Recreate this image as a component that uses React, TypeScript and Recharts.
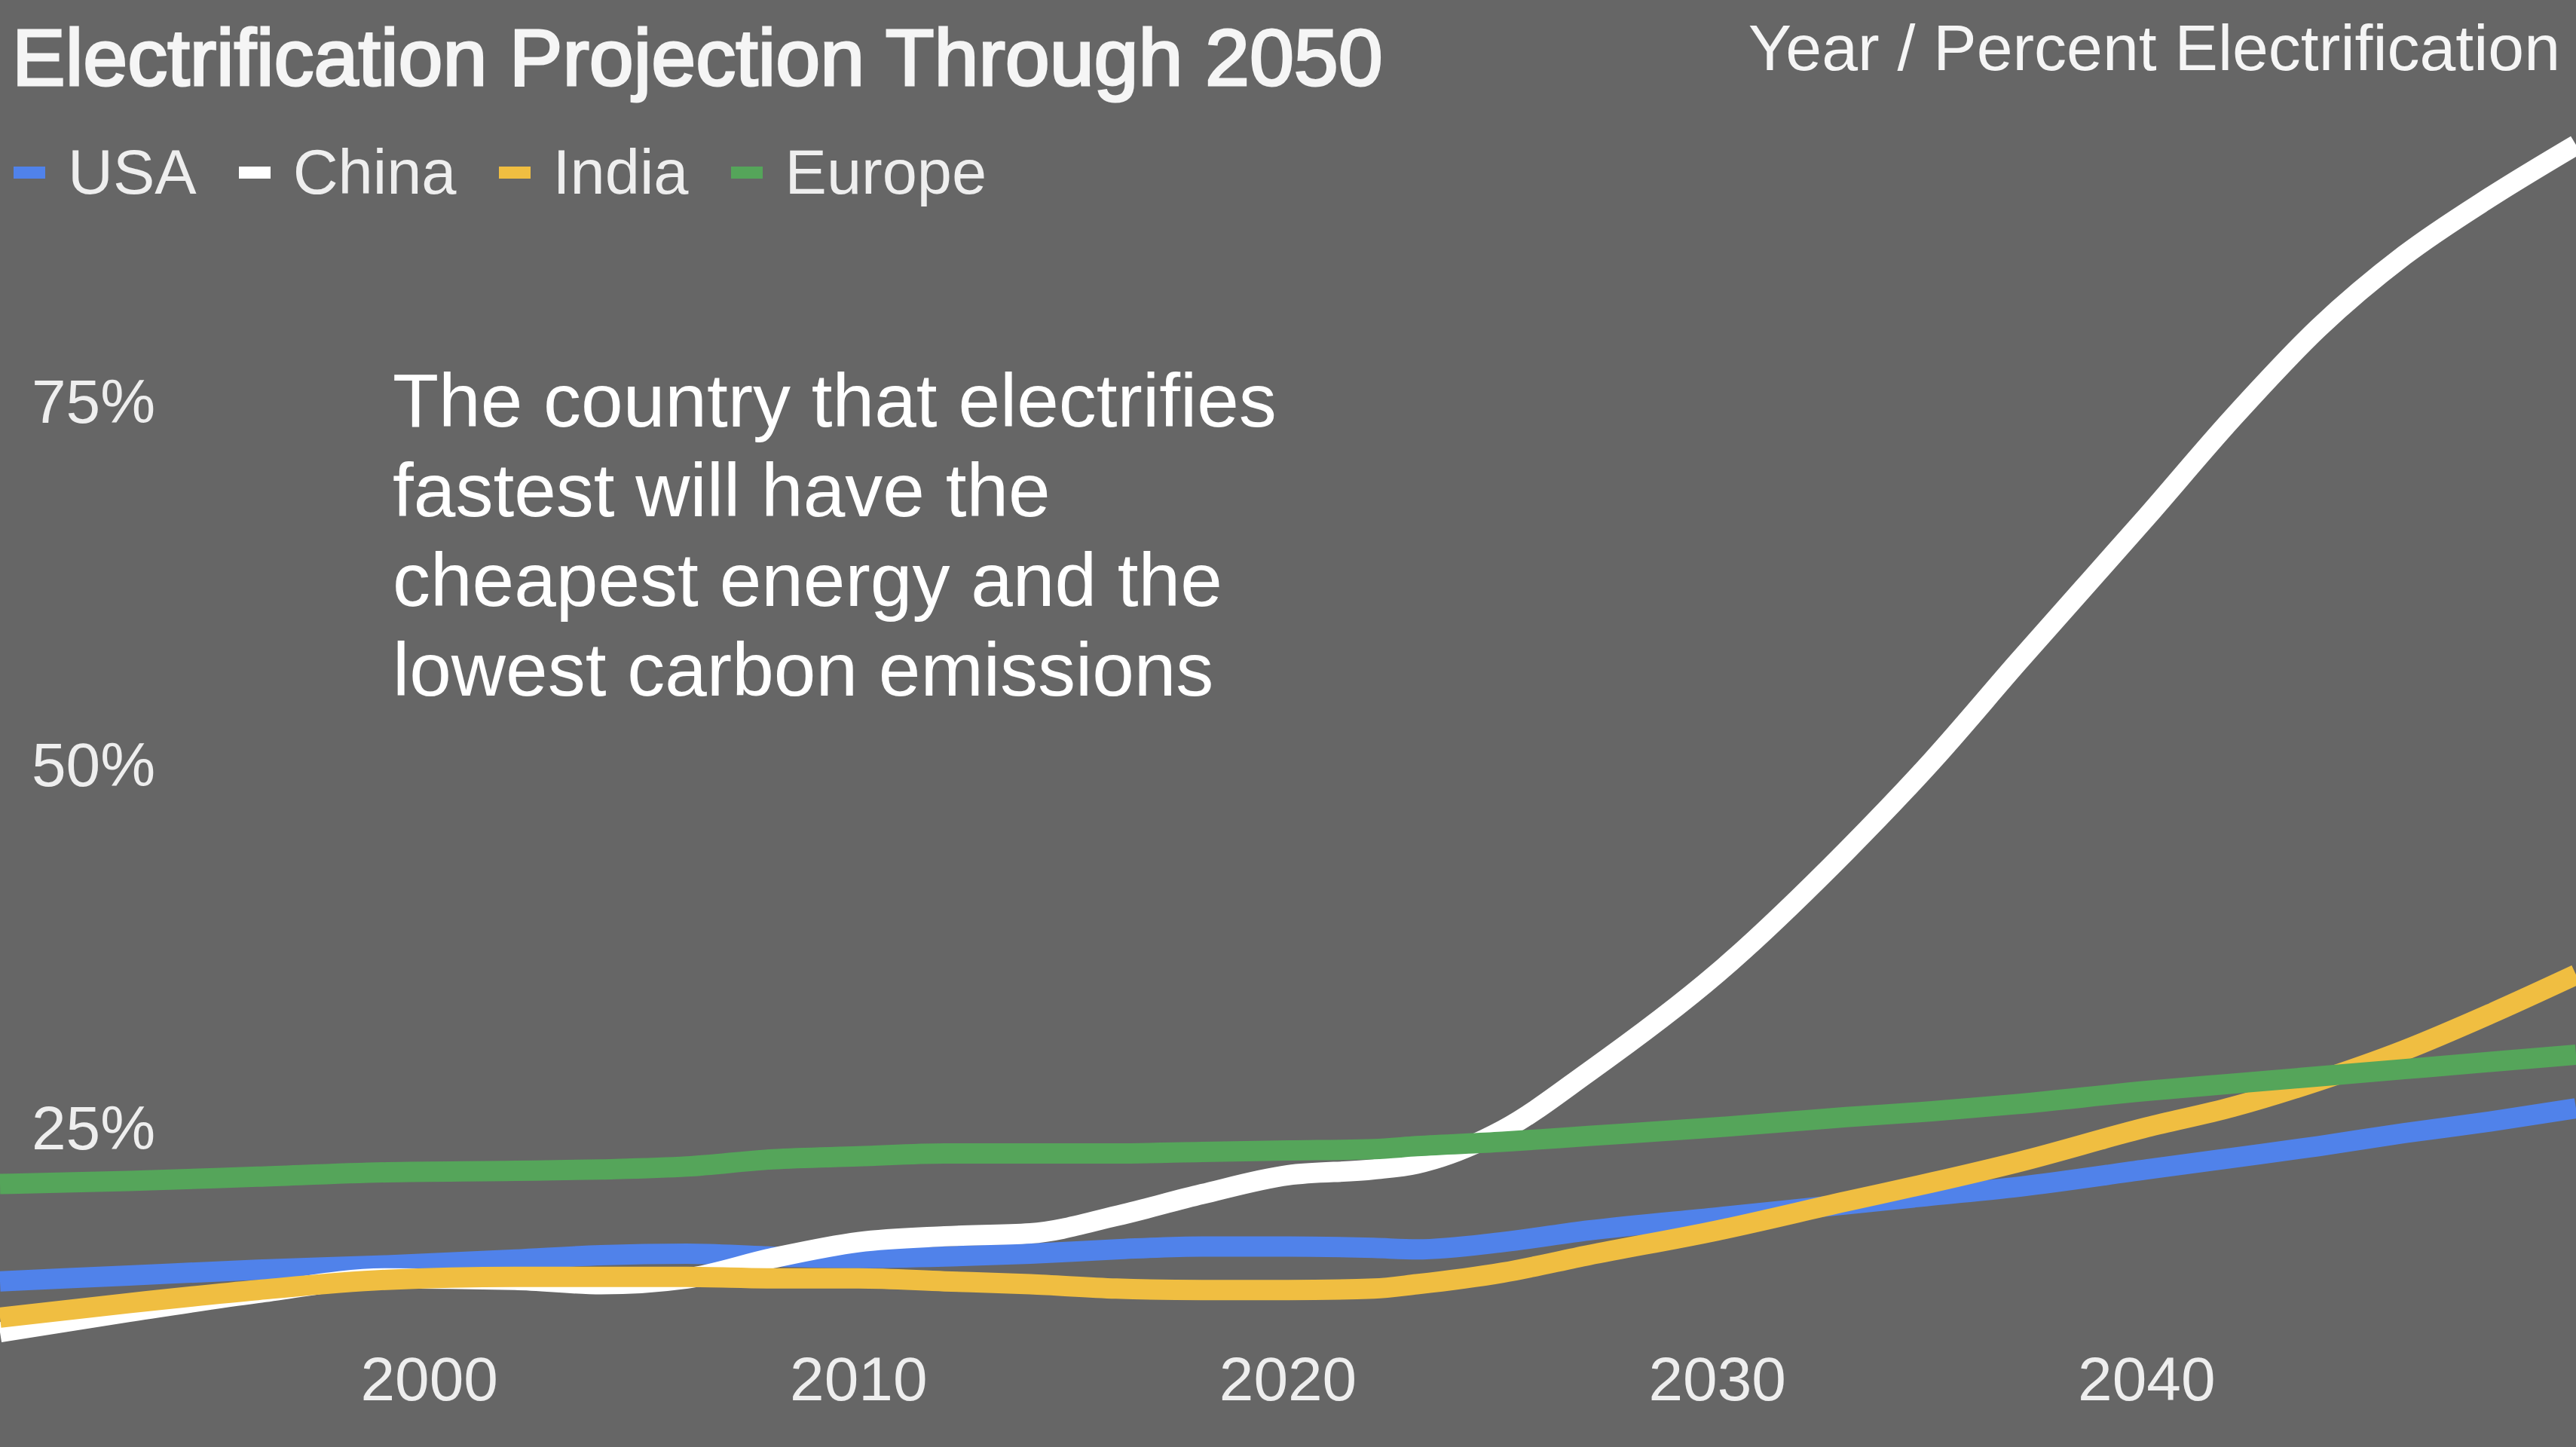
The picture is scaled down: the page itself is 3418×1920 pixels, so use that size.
import { LineChart, Line, XAxis, YAxis } from 'recharts';

// values (percent electrification)
const YEARS = [1990, 1993, 1996, 1999, 2002, 2004, 2006, 2008, 2010, 2012, 2014, 2016, 2018, 2020, 2022, 2023, 2025, 2027, 2030, 2033, 2035, 2037, 2040, 2042, 2044, 2046, 2048, 2050];
const USA = [14.4, 14.8, 15.2, 15.5, 15.9, 16.2, 16.3, 16.1, 16.0, 16.1, 16.3, 16.6, 16.8, 16.8, 16.7, 16.6, 17.1, 17.9, 18.8, 19.7, 20.3, 20.9, 22.1, 22.9, 23.7, 24.6, 25.4, 26.3];
const CHINA = [10.9, 12.3, 13.6, 14.6, 14.5, 14.2, 14.6, 16.0, 17.1, 17.5, 17.7, 18.9, 20.4, 21.7, 22.1, 22.5, 24.8, 28.8, 35.6, 44.0, 50.2, 57.0, 67.0, 73.8, 80.0, 85.0, 89.0, 92.6];
const INDIA = [11.9, 12.9, 13.8, 14.5, 14.7, 14.7, 14.7, 14.6, 14.6, 14.4, 14.2, 13.9, 13.8, 13.8, 13.9, 14.2, 15.0, 16.2, 17.9, 19.9, 21.2, 22.6, 25.0, 26.4, 28.2, 30.3, 32.8, 35.5];
const EUROPE = [21.1, 21.3, 21.6, 21.9, 22.0, 22.1, 22.3, 22.8, 23.0, 23.2, 23.2, 23.2, 23.3, 23.4, 23.5, 23.7, 24.0, 24.4, 25.0, 25.7, 26.1, 26.6, 27.5, 28.0, 28.5, 29.0, 29.5, 30.0];

const SERIES = [
    { key: 'usa', name: 'USA', color: '#5082EA', values: USA },
    { key: 'china', name: 'China', color: '#FFFFFF', values: CHINA },
    { key: 'india', name: 'India', color: '#F0BE41', values: INDIA },
    { key: 'europe', name: 'Europe', color: '#55A55A', values: EUROPE },
];

const X_TICKS = [2000, 2010, 2020, 2030, 2040];
const Y_TICKS = [25, 50, 75];

const TITLE = 'Electrification Projection Through 2050';
const AXIS_NOTE = 'Year / Percent Electrification';
const NOTE_LINES = [
    'The country that electrifies',
    'fastest will have the',
    'cheapest energy and the',
    'lowest carbon emissions',
];

const FONT = '"Liberation Sans", Arial, Helvetica, sans-serif';
const W = 3418;
const H = 1920;

const rows = YEARS.map((year, i) => {
    const row: Record<string, number> = { year };
    SERIES.forEach(s => { row[s.key] = s.values[i]; });
    return row;
});

const XTick = ({ x, y, payload }: any) => (
    <text x={x} y={y} dy={65} textAnchor="middle" fill="#EEEEEE" fontSize={82} fontFamily={FONT}>
        {payload.value}
    </text>
);

// labels sit inside the plot, left aligned
const YTick = ({ y, payload }: any) => (
    <text x={42} y={y} dy="0.355em" textAnchor="start" fill="#EEEEEE" fontSize={82} fontFamily={FONT}>
        {`${payload.value}%`}
    </text>
);

const App = () => {
    return (
        <div style={{ position: 'absolute', left: 0, top: 0, width: W, height: H, background: '#666666', overflow: 'hidden', fontFamily: FONT }}>
            <LineChart width={W} height={H} data={rows} margin={{ top: 146, right: 0, bottom: 0, left: 0 }}>
                <XAxis
                    dataKey="year"
                    type="number"
                    domain={[1990, 2050]}
                    ticks={X_TICKS}
                    axisLine={false}
                    tickLine={false}
                    height={135}
                    allowDataOverflow
                    tick={<XTick />}
                />
                <YAxis
                    type="number"
                    domain={[10, 95]}
                    ticks={Y_TICKS}
                    axisLine={false}
                    tickLine={false}
                    mirror
                    width={220}
                    allowDataOverflow
                    tick={<YTick />}
                />
                {SERIES.map(s => (
                    <Line
                        key={s.key}
                        dataKey={s.key}
                        name={s.name}
                        type="monotone"
                        stroke={s.color}
                        strokeWidth={27}
                        dot={false}
                        activeDot={false}
                        isAnimationActive={false}
                    />
                ))}
            </LineChart>

            {/* title */}
            <div style={{ position: 'absolute', left: 16, top: 23, fontSize: 106, lineHeight: '106px', color: '#F5F5F5', WebkitTextStroke: '3px #F5F5F5', whiteSpace: 'nowrap' }}>
                {TITLE}
            </div>

            {/* axis note, top right */}
            <div style={{ position: 'absolute', right: 21, top: 20, fontSize: 86, lineHeight: '86px', color: '#F5F5F5', whiteSpace: 'nowrap' }}>
                {AXIS_NOTE}
            </div>

            {/* legend */}
            <div style={{ position: 'absolute', left: 18, top: 187, display: 'flex', alignItems: 'center', fontSize: 83, lineHeight: '83px', color: '#EEEEEE' }}>
                {SERIES.map(s => (
                    <div key={s.key} style={{ display: 'flex', alignItems: 'center', marginRight: 56 }}>
                        <div style={{ width: 42, height: 16, background: s.color, marginRight: 30 }} />
                        <span>{s.name}</span>
                    </div>
                ))}
            </div>

            {/* annotation */}
            <div style={{ position: 'absolute', left: 521, top: 472, fontSize: 100, lineHeight: '119px', color: '#FFFFFF' }}>
                {NOTE_LINES.map(line => (
                    <div key={line}>{line}</div>
                ))}
            </div>
        </div>
    );
};

export default App;
